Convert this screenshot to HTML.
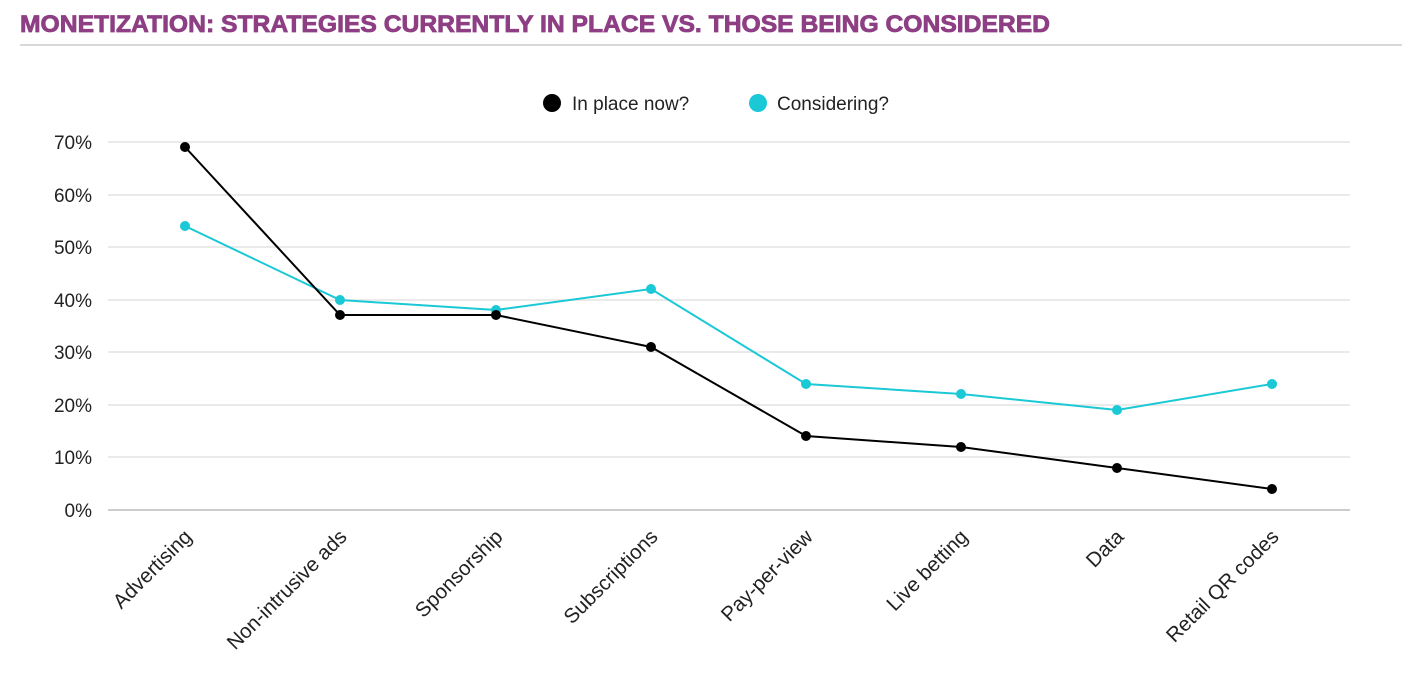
<!DOCTYPE html>
<html><head><meta charset="utf-8"><style>
body{margin:0;background:#fff;width:1402px;height:682px;overflow:hidden}
svg{display:block;font-family:"Liberation Sans",sans-serif}
</style></head><body>
<svg width="1402" height="682" viewBox="0 0 1402 682">
<text x="20" y="32" font-size="24" font-weight="bold" fill="#8E3F84" stroke="#8E3F84" stroke-width="0.8" textLength="1030" lengthAdjust="spacingAndGlyphs">MONETIZATION: STRATEGIES CURRENTLY IN PLACE VS. THOSE BEING CONSIDERED</text>
<line x1="20" y1="45" x2="1402" y2="45" stroke="#d9d9d9" stroke-width="2"/>
<circle cx="552" cy="103" r="9" fill="#000"/>
<text x="572" y="110" font-size="19" fill="#222">In place now?</text>
<circle cx="758" cy="103" r="9" fill="#1ac8d6"/>
<text x="777" y="110" font-size="19" fill="#222">Considering?</text>
<g stroke="#e3e3e3" stroke-width="1.5">
<line x1="108" x2="1350" y1="142" y2="142"/><line x1="108" x2="1350" y1="195" y2="195"/>
<line x1="108" x2="1350" y1="247" y2="247"/><line x1="108" x2="1350" y1="300" y2="300"/>
<line x1="108" x2="1350" y1="352" y2="352"/><line x1="108" x2="1350" y1="405" y2="405"/>
<line x1="108" x2="1350" y1="457" y2="457"/>
</g>
<line x1="108" x2="1350" y1="510" y2="510" stroke="#bbb" stroke-width="1.5"/>
<g font-size="19" fill="#222" text-anchor="end">
<text x="92" y="149">70%</text><text x="92" y="202">60%</text><text x="92" y="254">50%</text>
<text x="92" y="307">40%</text><text x="92" y="359">30%</text><text x="92" y="412">20%</text>
<text x="92" y="464">10%</text><text x="92" y="517">0%</text>
</g>
<polyline fill="none" stroke="#1ac8d6" stroke-width="2" points="185,226 340,300 496,310 651,289 806,384 961,394 1117,410 1272,384"/>
<polyline fill="none" stroke="#000" stroke-width="2" points="185,147 340,315 496,315 651,347 806,436 961,447 1117,468 1272,489"/>
<g fill="#1ac8d6"><circle cx="185" cy="226" r="5"/><circle cx="340" cy="300" r="5"/><circle cx="496" cy="310" r="5"/><circle cx="651" cy="289" r="5"/><circle cx="806" cy="384" r="5"/><circle cx="961" cy="394" r="5"/><circle cx="1117" cy="410" r="5"/><circle cx="1272" cy="384" r="5"/></g>
<g fill="#000"><circle cx="185" cy="147" r="5"/><circle cx="340" cy="315" r="5"/><circle cx="496" cy="315" r="5"/><circle cx="651" cy="347" r="5"/><circle cx="806" cy="436" r="5"/><circle cx="961" cy="447" r="5"/><circle cx="1117" cy="468" r="5"/><circle cx="1272" cy="489" r="5"/></g>
<g font-size="20.5" fill="#222" text-anchor="end">
<text transform="translate(193,538) rotate(-45)">Advertising</text>
<text transform="translate(348,538) rotate(-45)">Non-intrusive ads</text>
<text transform="translate(504,538) rotate(-45)">Sponsorship</text>
<text transform="translate(659,538) rotate(-45)">Subscriptions</text>
<text transform="translate(814,538) rotate(-45)">Pay-per-view</text>
<text transform="translate(969,538) rotate(-45)">Live betting</text>
<text transform="translate(1125,538) rotate(-45)">Data</text>
<text transform="translate(1280,538) rotate(-45)">Retail QR codes</text>
</g>
</svg>
</body></html>
